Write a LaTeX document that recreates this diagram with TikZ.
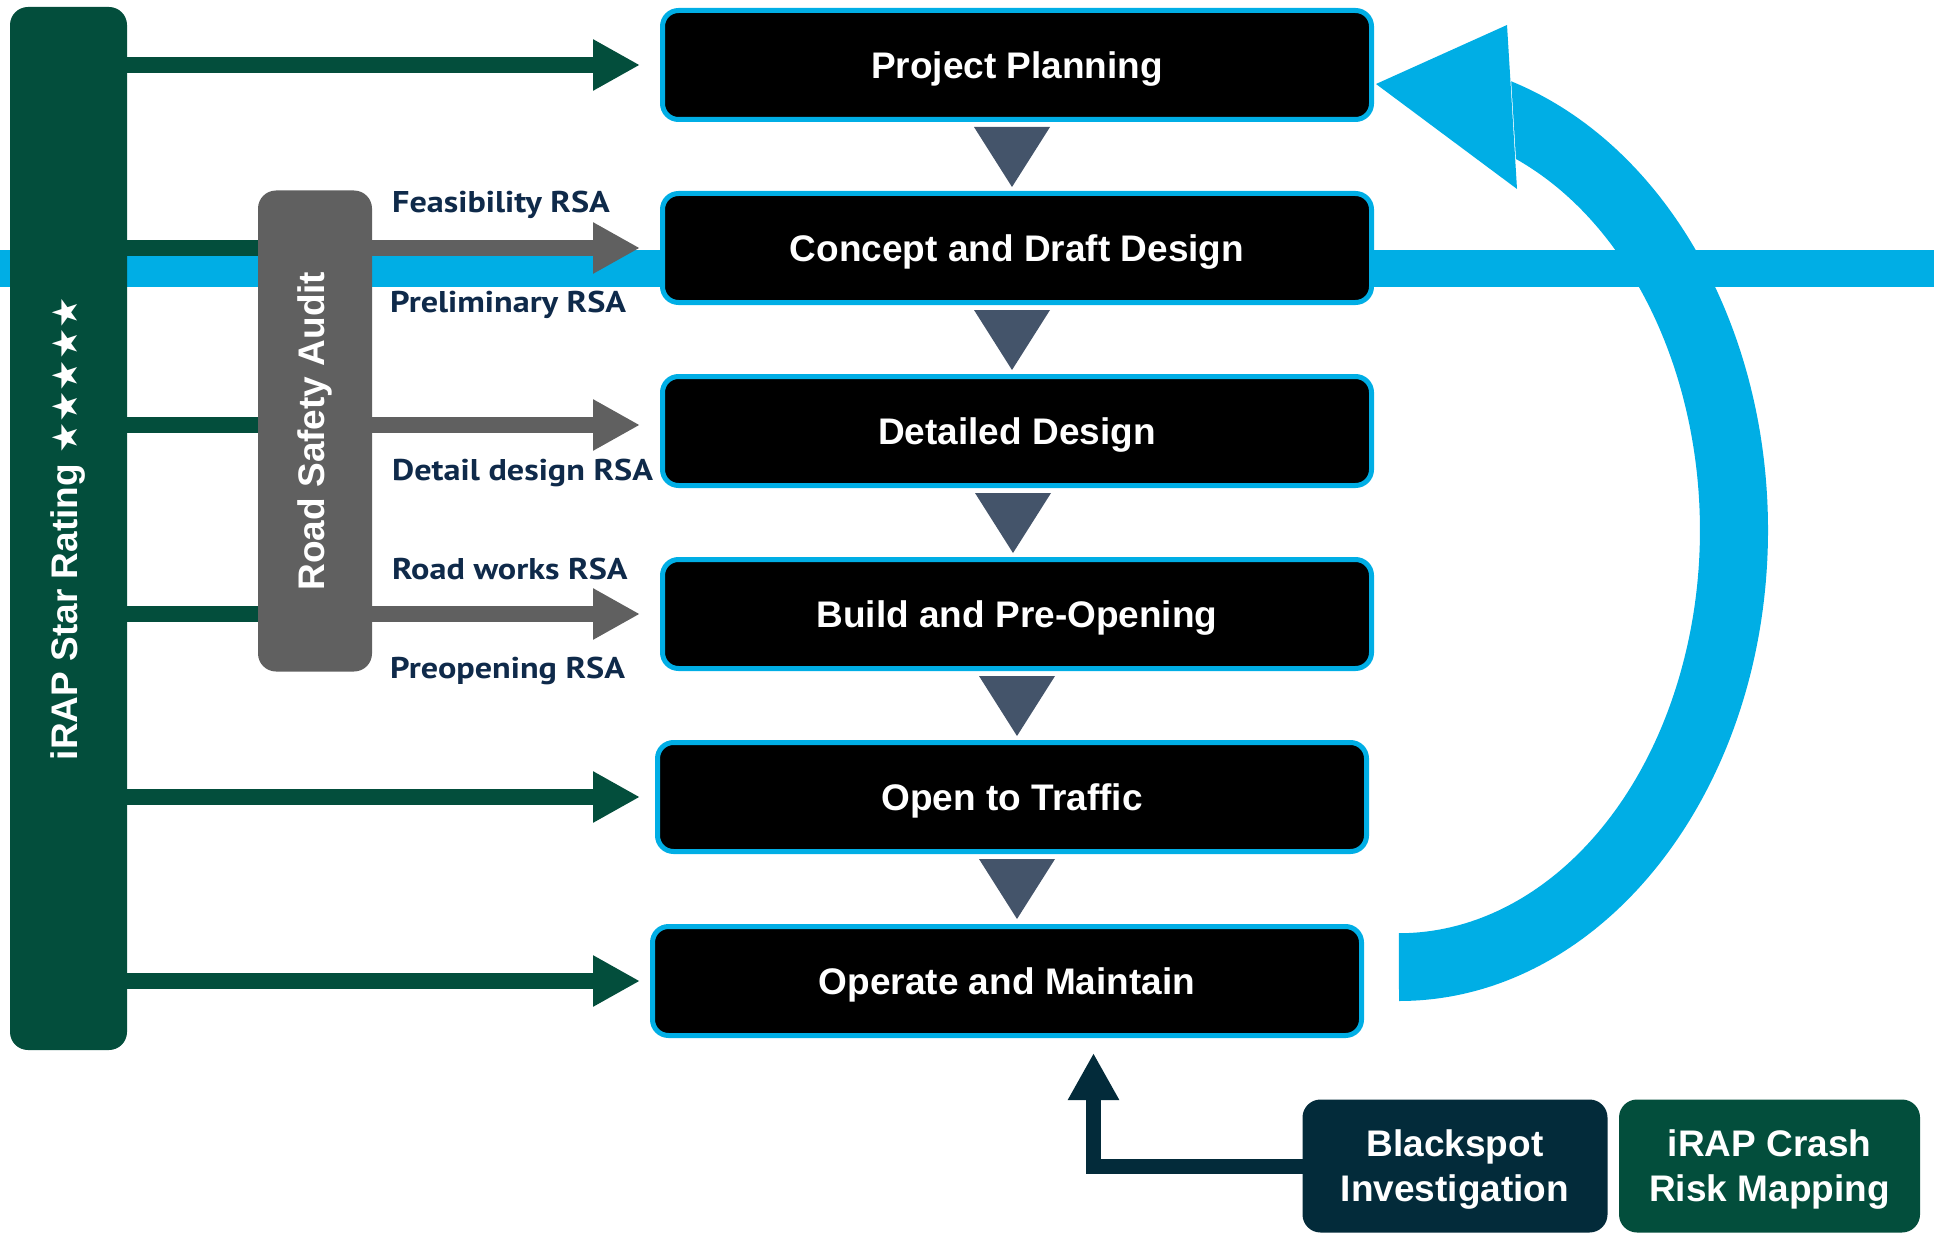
\documentclass[tikz,border=0pt]{standalone}
\usepackage{fontspec}
\setmainfont{Liberation Sans}
\newfontfamily\rsafont[FakeStretch=1.14]{PT Sans}
\newfontfamily\starfont{DejaVu Sans}
\usepackage{tikz}
\usetikzlibrary{calc, arrows.meta, positioning}

\definecolor{irapGreen}{HTML}{034E3C}
\definecolor{auditGray}{HTML}{606060}
\definecolor{laneBlue}{HTML}{00AEE5}
\definecolor{stepSlate}{HTML}{44546A}
\definecolor{spotNavy}{HTML}{032B3A}
\definecolor{rsaText}{HTML}{0F2A4A}

\newcommand{\bigfont}{\fontsize{37}{45}\selectfont\bfseries}
\newcommand{\rsasize}{\fontsize{30}{36}\selectfont\bfseries}

\tikzset{
  stepbox/.style={draw=laneBlue, line width=5pt, fill=black, rounded corners=16pt,
    minimum width=709pt, minimum height=109pt, inner sep=0pt, outer sep=0pt,
    text=white, font=\bigfont, text height=27pt, text depth=0pt},
  sidebar/.style={fill=#1, rounded corners=18pt, inner sep=0pt, outer sep=0pt},
  sidetext/.style={rotate=90, text=white, font=\bigfont, inner sep=0pt},
  feedbox/.style={fill=#1, rounded corners=18pt, minimum width=305pt, minimum height=133pt,
    inner sep=0pt, outer sep=0pt, text=white, font=\bigfont, align=center, text depth=0pt},
  rsalabel/.style={text=rsaText, font=\rsafont\rsasize, inner sep=0pt, anchor=base west},
  irapline/.style={draw=irapGreen, line width=16pt},
  rsaline/.style={draw=auditGray, line width=16pt},
  bigtip/.style={-{Triangle[length=47pt, width=48pt]}},
}

\begin{document}
\begin{tikzpicture}[x=1pt, y=-1pt]
  \useasboundingbox (0,0) rectangle (1934,1233);
  \def\tipx{640}

  \fill[laneBlue] (0,250) rectangle (1934,287);
  \fill[laneBlue] (1399,1001) arc[start angle=90, end angle=-72.3, x radius=369, y radius=471]
    -- (1516,159) arc[start angle=-67.1, end angle=90, x radius=301, y radius=403] -- cycle;
  \fill[laneBlue] (1376,84) -- (1507,25) -- (1517,189) -- cycle;

  \node[stepbox] (plan) at (1017,65) {Project Planning};
  \node[stepbox] (concept) at (1017,248) {Concept and Draft Design};
  \node[stepbox] (detail) at (1017,431) {Detailed Design};
  \node[stepbox] (build) at (1017,614) {Build and Pre-Opening};
  \node[stepbox] (open) at (1012,797) {Open to Traffic};
  \node[stepbox] (operate) at (1007,981) {Operate and Maintain};

  \foreach \x/\ytop in {1012/127, 1012/310, 1013/493, 1017/676, 1017/859}
    \fill[stepSlate] (\x-38,\ytop) -- (\x+38,\ytop) -- (\x,\ytop+60) -- cycle;

  \node[sidebar=irapGreen, minimum width=117pt, minimum height=1043pt] (irap) at (68.5,528.5) {};
  \node[sidetext] (irapText) at (irap.center) {iRAP Star Rating {\starfont\fontsize{35}{40}\selectfont ★★★★★}};

  \node[sidebar=auditGray, minimum width=114pt, minimum height=481pt] (audit) at (315,431) {};
  \node[sidetext] (auditText) at (audit.center) {Road Safety Audit};

  \coordinate (tip) at (\tipx,0);
  \coordinate (detailIn) at (0,425);
  \draw[irapline, bigtip] (irap.east |- plan.west) -- (tip |- plan.west);
  \draw[irapline] (irap.east |- concept.west) -- (audit.west |- concept.west);
  \draw[rsaline, bigtip] (audit.east |- concept.west) -- (tip |- concept.west);
  \draw[irapline] (irap.east |- detailIn) -- (audit.west |- detailIn);
  \draw[rsaline, bigtip] (audit.east |- detailIn) -- (tip |- detailIn);
  \draw[irapline] (irap.east |- build.west) -- (audit.west |- build.west);
  \draw[rsaline, bigtip] (audit.east |- build.west) -- (tip |- build.west);
  \draw[irapline, bigtip] (irap.east |- open.west) -- (tip |- open.west);
  \draw[irapline, bigtip] (irap.east |- operate.west) -- (tip |- operate.west);

  \node[rsalabel] (feasLbl) at (392,213) {Feasibility RSA};
  \node[rsalabel] (prelimLbl) at (390,312) {Preliminary RSA};
  \node[rsalabel] (detailLbl) at (392,480) {Detail design RSA};
  \node[rsalabel] (worksLbl) at (392,579) {Road works RSA};
  \node[rsalabel] (preopenLbl) at (390,678) {Preopening RSA};

  \node[feedbox=spotNavy] (blackspot) at (1455,1166) {Blackspot\\Investigation};
  \node[feedbox=irapGreen, minimum width=301pt] (crashmap) at (1769.5,1166) {iRAP Crash\\Risk Mapping};
  \coordinate (spotIn) at (1093.5,1053);
  \draw[draw=spotNavy, line width=15pt, bigtip] (blackspot.west) -| (spotIn);
\end{tikzpicture}
\end{document}
